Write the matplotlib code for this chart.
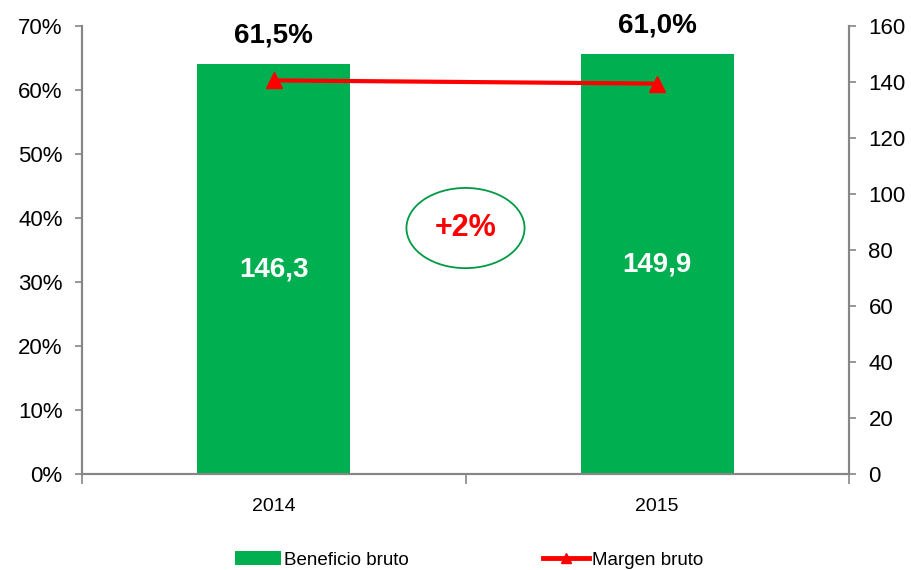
import matplotlib
matplotlib.use("Agg")
import matplotlib.pyplot as plt
from matplotlib.patches import Ellipse, Patch
from matplotlib.lines import Line2D
import numpy as np

years = ["2014", "2015"]
beneficio = [146.3, 149.9]
margen = [61.5, 61.0]
beneficio_labels = ["146,3", "149,9"]
margen_labels = ["61,5%", "61,0%"]
growth_label = "+2%"

GREEN = "#00B050"
RED = "#FF0000"
GRAY = "#868686"

plt.rcParams['font.family'] = ['Liberation Sans', 'DejaVu Sans']

fig = plt.figure(figsize=(9.11, 5.70), dpi=100)
ax = fig.add_axes([82/911, 96/570, 767/911, 448/570])
ax2 = ax.twinx()
ax.set_zorder(ax2.get_zorder() + 1)
ax.patch.set_visible(False)

x = np.arange(len(years))
ax2.bar(x, beneficio, width=0.4, color=GREEN, zorder=2)
ax2.set_ylim(0, 160)
ax2.set_yticks(np.arange(0, 161, 20))

ax.plot(x, margen, color=RED, lw=3, marker="^", markersize=11, zorder=5)
ax.set_ylim(0, 70)
ax.set_yticks(np.arange(0, 71, 10))
ax.set_yticklabels([f"{v}%" for v in range(0, 71, 10)])
ax.set_xlim(-0.5, 1.5)
ax.set_xticks(x)
ax.set_xticklabels(years, fontsize=14)
ax.set_xticks([-0.5, 0.5, 1.5], minor=True)
ax.tick_params(axis='x', which='major', length=0, pad=17)
ax.tick_params(axis='x', which='minor', length=7, color=GRAY, width=1.2, direction='out')
ax.tick_params(axis='y', labelsize=16, length=5, color=GRAY, width=1.2, pad=9)
ax2.tick_params(axis='y', labelsize=16, length=5, color=GRAY, width=1.2, pad=9)

for a in (ax, ax2):
    a.spines['top'].set_visible(False)
    for s in ('left', 'right', 'bottom'):
        a.spines[s].set_color(GRAY)
        a.spines[s].set_linewidth(1.5)

for i in range(len(years)):
    ax2.annotate(margen_labels[i], (x[i], beneficio[i]), xytext=(0, 21),
                 textcoords='offset points', ha='center', va='center',
                 fontsize=20, fontweight='bold', color='black')
    ax2.text(x[i], beneficio[i] / 2, beneficio_labels[i], ha='center', va='center',
             fontsize=20, fontweight='bold', color='white')

ell = Ellipse((0.5, 0.549), 0.154, 0.179, transform=ax.transAxes,
              facecolor='none', edgecolor='#009A44', lw=1.3, zorder=6)
ax.add_patch(ell)
ax.text(0.5, 0.549, growth_label, transform=ax.transAxes, ha='center', va='center',
        fontsize=22, fontweight='bold', color=RED, zorder=7)

handles = [Patch(facecolor=GREEN, edgecolor='none'),
           Line2D([0], [0], color=RED, lw=3.5, marker='^', markersize=7)]
fig.legend(handles, ["Beneficio bruto", "Margen bruto"], loc='center',
           bbox_to_anchor=(0.515, 0.0175), ncol=2, frameon=False, fontsize=13.5,
           handlelength=2.45, handletextpad=0.15, columnspacing=7.2)

fig.savefig("out.png", dpi=100)
